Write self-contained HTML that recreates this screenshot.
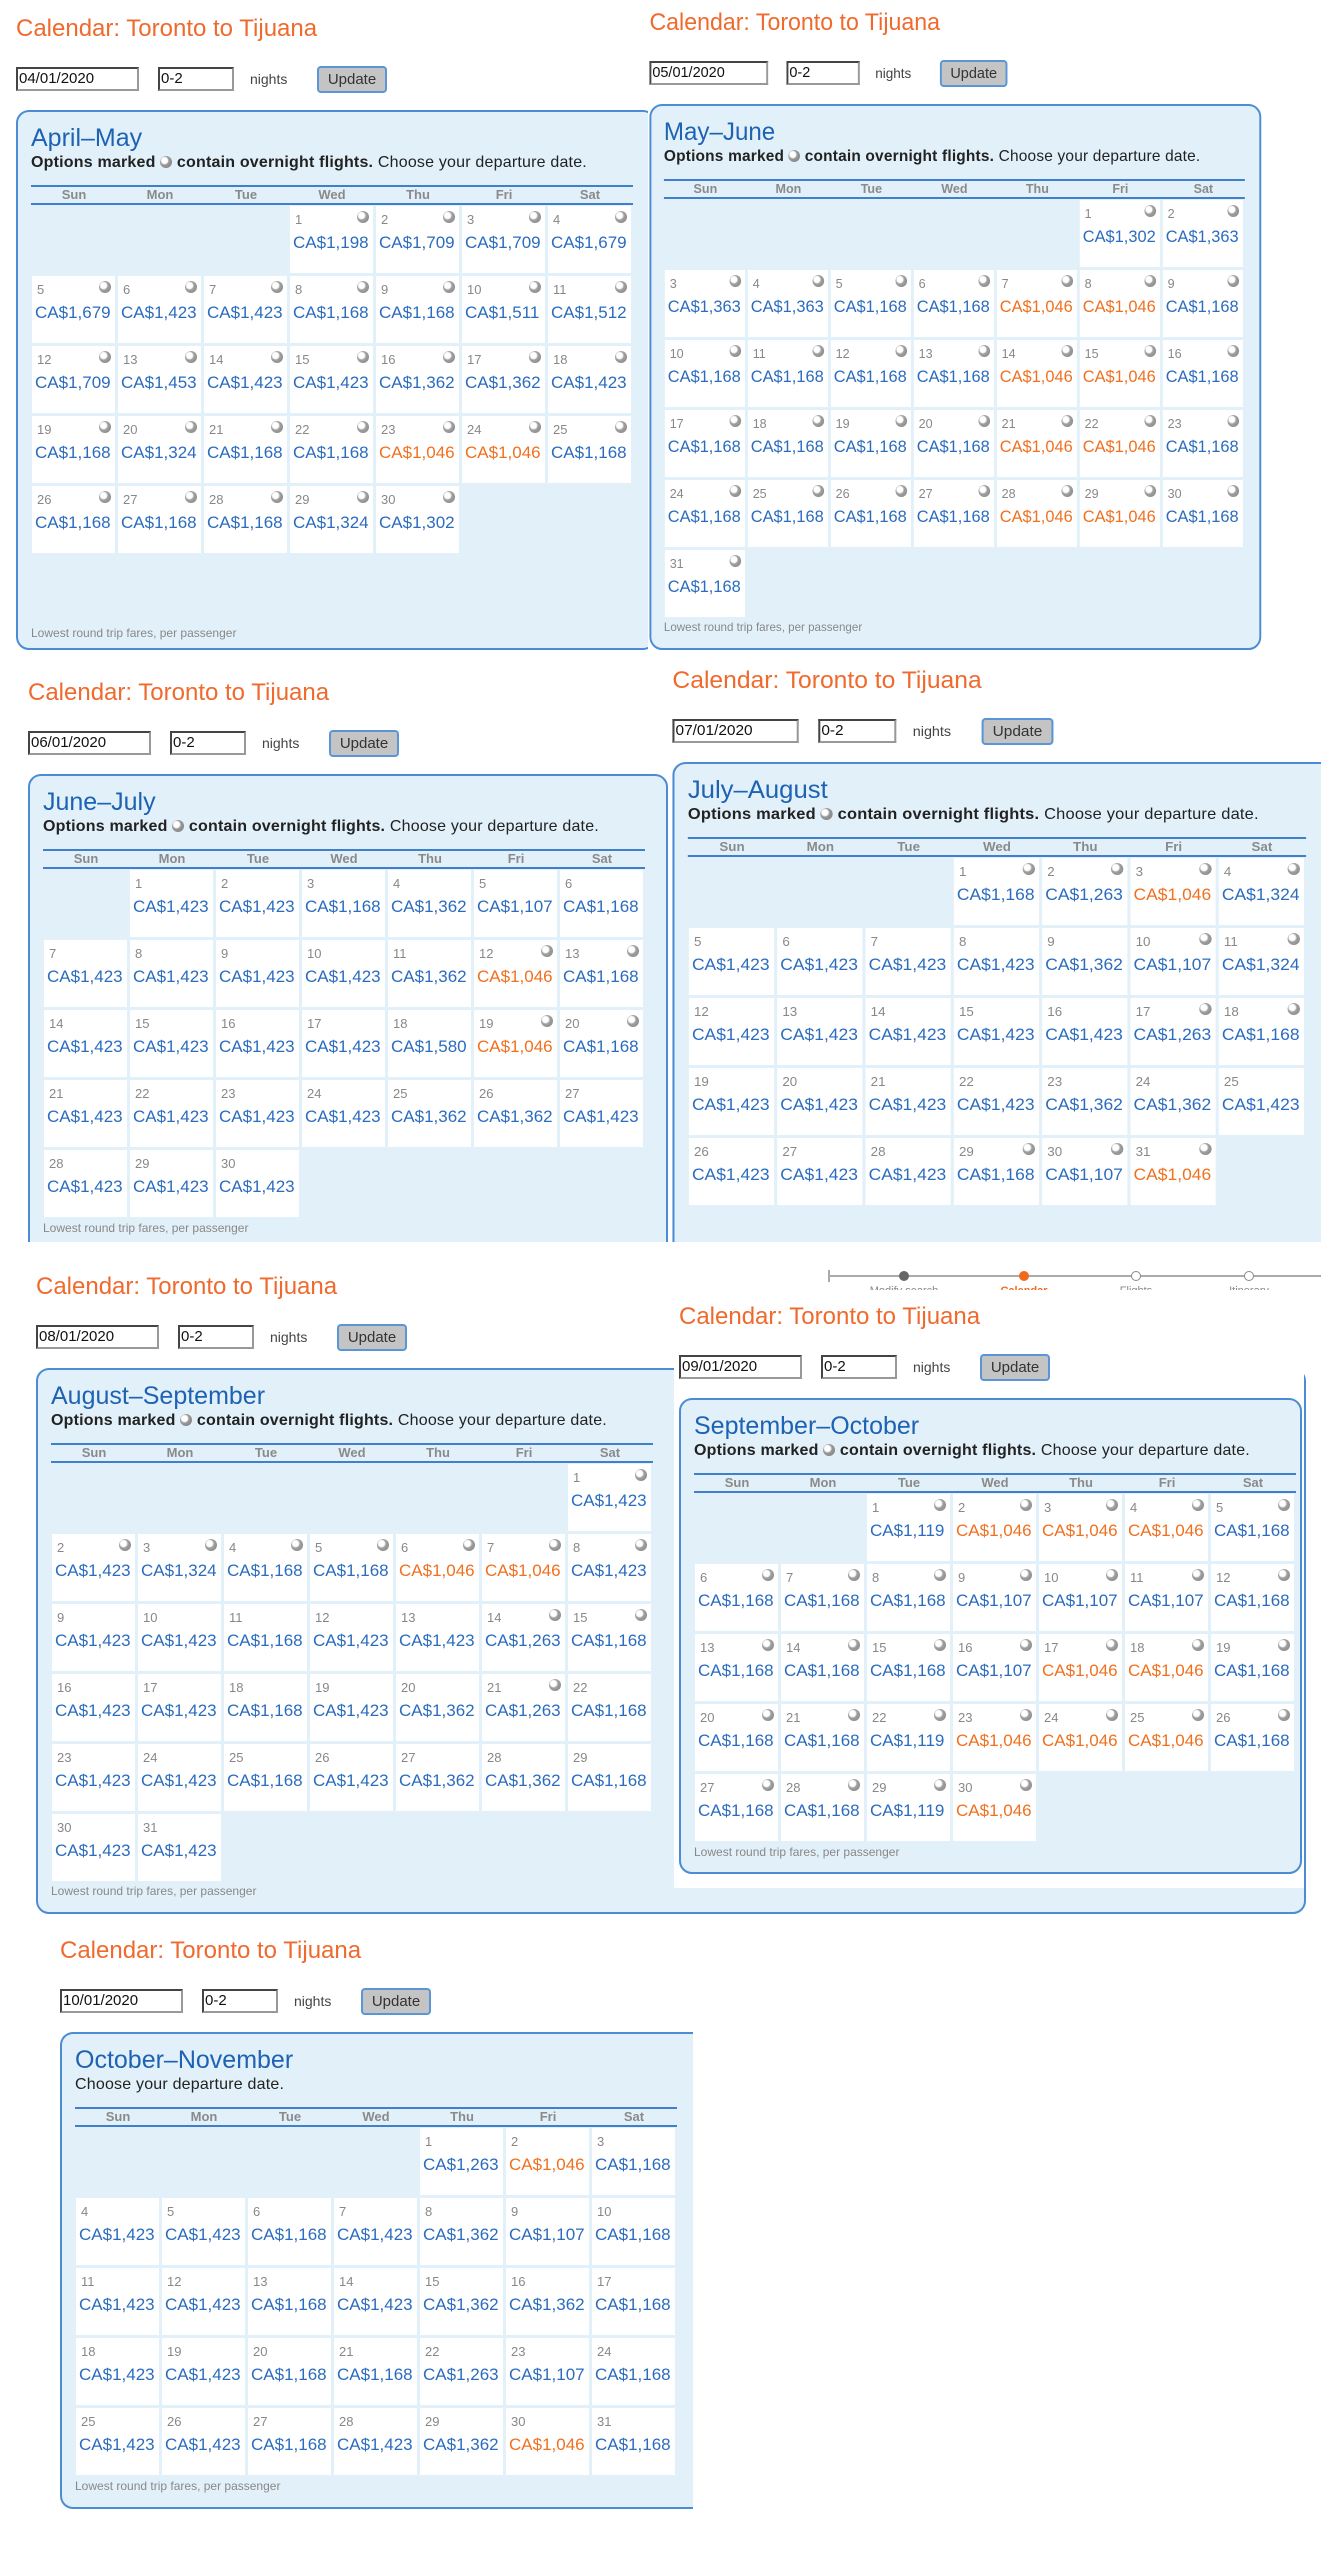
<!DOCTYPE html>
<html><head><meta charset="utf-8"><style>
*{margin:0;padding:0;box-sizing:border-box}
body{width:1321px;height:2560px;position:relative;background:#fff;font-family:"Liberation Sans","DejaVu Sans",sans-serif;overflow:hidden}
.w{position:absolute;overflow:hidden}
.wb{background:#fff}
.in{position:absolute;transform-origin:0 0;width:1400px;height:700px}
.in>div{position:absolute}
.t{left:16px;top:15px;font-size:24px;color:#ef6a2c;white-space:nowrap}
.d,.n{top:67px;height:24px;border:2px solid #444;border-right-color:#999;border-bottom-color:#999;font-size:15px;line-height:20px;padding-left:1px;color:#111;background:#fff}
.d{left:16px;width:123px}
.n{left:158px;width:76px}
.nl{left:250px;top:71px;font-size:14px;color:#444}
.up{left:317px;top:66px;width:70px;height:27px;border:2px solid #5a95d8;border-radius:4px;background:#c4c4c4;font-size:15px;text-align:center;line-height:23px;color:#333}
.bx{left:16px;top:110px;border:2px solid #4c8cd5;border-radius:13px;background:#e2f0f9}
.mh{left:31px;top:124px;font-size:25px;color:#1d62b3;white-space:nowrap}
.sb{left:31px;top:154px;font-size:16px;letter-spacing:.2px;color:#222;white-space:nowrap}
.sb u{display:inline-block;width:12px;height:12px;border-radius:50%;background:radial-gradient(circle at 38% 38%,#fff 0 28%,#999 42%,#7a7a7a 100%);vertical-align:-1px}
.hd{left:31px;top:185px;width:602px;height:20px;border-top:2px solid #3f7fcc;border-bottom:2px solid #3f7fcc;display:flex}
.hd span{flex:1;text-align:center;font-weight:bold;font-size:13px;color:#8a8a8a;line-height:16px}
.g{left:32px;top:206px;display:grid;grid-template-columns:repeat(7,83px);grid-auto-rows:67px;gap:3px}
.g i{position:relative;background:#fff;font-style:normal;display:block}
.g i.e{background:none}
.g b{position:absolute;left:5px;top:6px;font-weight:normal;font-size:13px;color:#888}
.g u{position:absolute;right:4px;top:5px;width:12px;height:12px;border-radius:50%;background:radial-gradient(circle at 38% 38%,#fff 0 28%,#a0a0a0 42%,#808080 100%)}
.g s{position:absolute;left:3px;top:27px;font-size:17px;color:#2b6cbf;text-decoration:none;white-space:nowrap}
.g i.o s{color:#f0701f}
.ft{left:31px;font-size:12px;color:#888;white-space:nowrap}
.pb{position:absolute;left:828px;top:1270px;width:493px;height:23px;overflow:hidden;background:#fff}
.pb .ln{position:absolute;left:0;top:5px;width:493px;height:2px;background:#aaa}
.pb .tk{position:absolute;left:0;top:0;width:2px;height:12px;background:#aaa}
.pb .dt{position:absolute;top:1px;width:10px;height:10px;border-radius:50%}
.pb .lb{position:absolute;top:15px;font-size:11px;color:#888;width:100px;text-align:center}
</style></head><body>

<!-- A -->
<div class="w wb" style="left:0;top:0;width:648px;height:660px"><div class="in" style="left:0;top:0">
<div class="t">Calendar: Toronto to Tijuana</div>
<div class="d">04/01/2020</div><div class="n">0-2</div><div class="nl">nights</div><div class="up">Update</div>
<div class="bx" style="width:640px;height:540px"></div>
<div class="mh">April–May</div>
<div class="sb"><b>Options marked <u></u> contain overnight flights.</b> Choose your departure date.</div>
<div class="hd"><span>Sun</span><span>Mon</span><span>Tue</span><span>Wed</span><span>Thu</span><span>Fri</span><span>Sat</span></div>
<div class="g">
<i class=e></i><i class=e></i><i class=e></i>
<i><b>1</b><u></u><s>CA$1,198</s></i><i><b>2</b><u></u><s>CA$1,709</s></i><i><b>3</b><u></u><s>CA$1,709</s></i><i><b>4</b><u></u><s>CA$1,679</s></i>
<i><b>5</b><u></u><s>CA$1,679</s></i><i><b>6</b><u></u><s>CA$1,423</s></i><i><b>7</b><u></u><s>CA$1,423</s></i><i><b>8</b><u></u><s>CA$1,168</s></i><i><b>9</b><u></u><s>CA$1,168</s></i><i><b>10</b><u></u><s>CA$1,511</s></i><i><b>11</b><u></u><s>CA$1,512</s></i>
<i><b>12</b><u></u><s>CA$1,709</s></i><i><b>13</b><u></u><s>CA$1,453</s></i><i><b>14</b><u></u><s>CA$1,423</s></i><i><b>15</b><u></u><s>CA$1,423</s></i><i><b>16</b><u></u><s>CA$1,362</s></i><i><b>17</b><u></u><s>CA$1,362</s></i><i><b>18</b><u></u><s>CA$1,423</s></i>
<i><b>19</b><u></u><s>CA$1,168</s></i><i><b>20</b><u></u><s>CA$1,324</s></i><i><b>21</b><u></u><s>CA$1,168</s></i><i><b>22</b><u></u><s>CA$1,168</s></i><i class=o><b>23</b><u></u><s>CA$1,046</s></i><i class=o><b>24</b><u></u><s>CA$1,046</s></i><i><b>25</b><u></u><s>CA$1,168</s></i>
<i><b>26</b><u></u><s>CA$1,168</s></i><i><b>27</b><u></u><s>CA$1,168</s></i><i><b>28</b><u></u><s>CA$1,168</s></i><i><b>29</b><u></u><s>CA$1,324</s></i><i><b>30</b><u></u><s>CA$1,302</s></i>
</div>
<div class="ft" style="top:626px">Lowest round trip fares, per passenger</div>
</div></div>

<!-- B -->
<div class="w wb" style="left:648px;top:0;width:673px;height:660px"><div class="in" style="left:-14px;top:-6px;transform:scaleX(0.965)">
<div class="t">Calendar: Toronto to Tijuana</div>
<div class="d">05/01/2020</div><div class="n">0-2</div><div class="nl">nights</div><div class="up">Update</div>
<div class="bx" style="width:634px;height:546px"></div>
<div class="mh">May–June</div>
<div class="sb"><b>Options marked <u></u> contain overnight flights.</b> Choose your departure date.</div>
<div class="hd"><span>Sun</span><span>Mon</span><span>Tue</span><span>Wed</span><span>Thu</span><span>Fri</span><span>Sat</span></div>
<div class="g">
<i class=e></i><i class=e></i><i class=e></i><i class=e></i><i class=e></i>
<i><b>1</b><u></u><s>CA$1,302</s></i><i><b>2</b><u></u><s>CA$1,363</s></i>
<i><b>3</b><u></u><s>CA$1,363</s></i><i><b>4</b><u></u><s>CA$1,363</s></i><i><b>5</b><u></u><s>CA$1,168</s></i><i><b>6</b><u></u><s>CA$1,168</s></i><i class=o><b>7</b><u></u><s>CA$1,046</s></i><i class=o><b>8</b><u></u><s>CA$1,046</s></i><i><b>9</b><u></u><s>CA$1,168</s></i>
<i><b>10</b><u></u><s>CA$1,168</s></i><i><b>11</b><u></u><s>CA$1,168</s></i><i><b>12</b><u></u><s>CA$1,168</s></i><i><b>13</b><u></u><s>CA$1,168</s></i><i class=o><b>14</b><u></u><s>CA$1,046</s></i><i class=o><b>15</b><u></u><s>CA$1,046</s></i><i><b>16</b><u></u><s>CA$1,168</s></i>
<i><b>17</b><u></u><s>CA$1,168</s></i><i><b>18</b><u></u><s>CA$1,168</s></i><i><b>19</b><u></u><s>CA$1,168</s></i><i><b>20</b><u></u><s>CA$1,168</s></i><i class=o><b>21</b><u></u><s>CA$1,046</s></i><i class=o><b>22</b><u></u><s>CA$1,046</s></i><i><b>23</b><u></u><s>CA$1,168</s></i>
<i><b>24</b><u></u><s>CA$1,168</s></i><i><b>25</b><u></u><s>CA$1,168</s></i><i><b>26</b><u></u><s>CA$1,168</s></i><i><b>27</b><u></u><s>CA$1,168</s></i><i class=o><b>28</b><u></u><s>CA$1,046</s></i><i class=o><b>29</b><u></u><s>CA$1,046</s></i><i><b>30</b><u></u><s>CA$1,168</s></i>
<i><b>31</b><u></u><s>CA$1,168</s></i>
</div>
<div class="ft" style="top:626px">Lowest round trip fares, per passenger</div>
</div></div>

<!-- C -->
<div class="w wb" style="left:0;top:660px;width:672px;height:582px"><div class="in" style="left:12px;top:4px">
<div class="t">Calendar: Toronto to Tijuana</div>
<div class="d">06/01/2020</div><div class="n">0-2</div><div class="nl">nights</div><div class="up">Update</div>
<div class="bx" style="width:640px;height:540px"></div>
<div class="mh">June–July</div>
<div class="sb"><b>Options marked <u></u> contain overnight flights.</b> Choose your departure date.</div>
<div class="hd"><span>Sun</span><span>Mon</span><span>Tue</span><span>Wed</span><span>Thu</span><span>Fri</span><span>Sat</span></div>
<div class="g">
<i class=e></i>
<i><b>1</b><s>CA$1,423</s></i><i><b>2</b><s>CA$1,423</s></i><i><b>3</b><s>CA$1,168</s></i><i><b>4</b><s>CA$1,362</s></i><i><b>5</b><s>CA$1,107</s></i><i><b>6</b><s>CA$1,168</s></i>
<i><b>7</b><s>CA$1,423</s></i><i><b>8</b><s>CA$1,423</s></i><i><b>9</b><s>CA$1,423</s></i><i><b>10</b><s>CA$1,423</s></i><i><b>11</b><s>CA$1,362</s></i><i class=o><b>12</b><u></u><s>CA$1,046</s></i><i><b>13</b><u></u><s>CA$1,168</s></i>
<i><b>14</b><s>CA$1,423</s></i><i><b>15</b><s>CA$1,423</s></i><i><b>16</b><s>CA$1,423</s></i><i><b>17</b><s>CA$1,423</s></i><i><b>18</b><s>CA$1,580</s></i><i class=o><b>19</b><u></u><s>CA$1,046</s></i><i><b>20</b><u></u><s>CA$1,168</s></i>
<i><b>21</b><s>CA$1,423</s></i><i><b>22</b><s>CA$1,423</s></i><i><b>23</b><s>CA$1,423</s></i><i><b>24</b><s>CA$1,423</s></i><i><b>25</b><s>CA$1,362</s></i><i><b>26</b><s>CA$1,362</s></i><i><b>27</b><s>CA$1,423</s></i>
<i><b>28</b><s>CA$1,423</s></i><i><b>29</b><s>CA$1,423</s></i><i><b>30</b><s>CA$1,423</s></i>
</div>
<div class="ft" style="top:557px">Lowest round trip fares, per passenger</div>
</div></div>

<!-- D -->
<div class="w wb" style="left:672px;top:660px;width:649px;height:582px"><div class="in" style="left:-16px;top:-8px;transform:scaleX(1.027)">
<div class="t">Calendar: Toronto to Tijuana</div>
<div class="d">07/01/2020</div><div class="n">0-2</div><div class="nl">nights</div><div class="up">Update</div>
<div class="bx" style="width:700px;height:560px"></div>
<div class="mh">July–August</div>
<div class="sb"><b>Options marked <u></u> contain overnight flights.</b> Choose your departure date.</div>
<div class="hd"><span>Sun</span><span>Mon</span><span>Tue</span><span>Wed</span><span>Thu</span><span>Fri</span><span>Sat</span></div>
<div class="g">
<i class=e></i><i class=e></i><i class=e></i>
<i><b>1</b><u></u><s>CA$1,168</s></i><i><b>2</b><u></u><s>CA$1,263</s></i><i class=o><b>3</b><u></u><s>CA$1,046</s></i><i><b>4</b><u></u><s>CA$1,324</s></i>
<i><b>5</b><s>CA$1,423</s></i><i><b>6</b><s>CA$1,423</s></i><i><b>7</b><s>CA$1,423</s></i><i><b>8</b><s>CA$1,423</s></i><i><b>9</b><s>CA$1,362</s></i><i><b>10</b><u></u><s>CA$1,107</s></i><i><b>11</b><u></u><s>CA$1,324</s></i>
<i><b>12</b><s>CA$1,423</s></i><i><b>13</b><s>CA$1,423</s></i><i><b>14</b><s>CA$1,423</s></i><i><b>15</b><s>CA$1,423</s></i><i><b>16</b><s>CA$1,423</s></i><i><b>17</b><u></u><s>CA$1,263</s></i><i><b>18</b><u></u><s>CA$1,168</s></i>
<i><b>19</b><s>CA$1,423</s></i><i><b>20</b><s>CA$1,423</s></i><i><b>21</b><s>CA$1,423</s></i><i><b>22</b><s>CA$1,423</s></i><i><b>23</b><s>CA$1,362</s></i><i><b>24</b><s>CA$1,362</s></i><i><b>25</b><s>CA$1,423</s></i>
<i><b>26</b><s>CA$1,423</s></i><i><b>27</b><s>CA$1,423</s></i><i><b>28</b><s>CA$1,423</s></i><i><b>29</b><u></u><s>CA$1,168</s></i><i><b>30</b><u></u><s>CA$1,107</s></i><i class=o><b>31</b><u></u><s>CA$1,046</s></i>
</div>
</div></div>

<!-- progress bar -->
<div class="pb">
<div class="ln"></div><div class="tk"></div>
<div class="dt" style="left:71px;background:#666"></div>
<div class="dt" style="left:191px;background:#f06a1c"></div>
<div class="dt" style="left:303px;background:#fff;border:1.5px solid #888"></div>
<div class="dt" style="left:416px;background:#fff;border:1.5px solid #888"></div>
<div class="lb" style="left:26px">Modify search</div>
<div class="lb" style="left:146px;color:#f06a1c;font-weight:bold">Calendar</div>
<div class="lb" style="left:258px">Flights</div>
<div class="lb" style="left:371px">Itinerary</div>
</div>

<!-- E -->
<div class="w" style="left:0;top:1250px;width:1321px;height:675px"><div class="in" style="left:20px;top:8px">
<div class="t">Calendar: Toronto to Tijuana</div>
<div class="d">08/01/2020</div><div class="n">0-2</div><div class="nl">nights</div><div class="up">Update</div>
<div class="bx" style="width:1270px;height:546px"></div>
<div class="mh">August–September</div>
<div class="sb"><b>Options marked <u></u> contain overnight flights.</b> Choose your departure date.</div>
<div class="hd"><span>Sun</span><span>Mon</span><span>Tue</span><span>Wed</span><span>Thu</span><span>Fri</span><span>Sat</span></div>
<div class="g">
<i class=e></i><i class=e></i><i class=e></i><i class=e></i><i class=e></i><i class=e></i>
<i><b>1</b><u></u><s>CA$1,423</s></i>
<i><b>2</b><u></u><s>CA$1,423</s></i><i><b>3</b><u></u><s>CA$1,324</s></i><i><b>4</b><u></u><s>CA$1,168</s></i><i><b>5</b><u></u><s>CA$1,168</s></i><i class=o><b>6</b><u></u><s>CA$1,046</s></i><i class=o><b>7</b><u></u><s>CA$1,046</s></i><i><b>8</b><u></u><s>CA$1,423</s></i>
<i><b>9</b><s>CA$1,423</s></i><i><b>10</b><s>CA$1,423</s></i><i><b>11</b><s>CA$1,168</s></i><i><b>12</b><s>CA$1,423</s></i><i><b>13</b><s>CA$1,423</s></i><i><b>14</b><u></u><s>CA$1,263</s></i><i><b>15</b><u></u><s>CA$1,168</s></i>
<i><b>16</b><s>CA$1,423</s></i><i><b>17</b><s>CA$1,423</s></i><i><b>18</b><s>CA$1,168</s></i><i><b>19</b><s>CA$1,423</s></i><i><b>20</b><s>CA$1,362</s></i><i><b>21</b><u></u><s>CA$1,263</s></i><i><b>22</b><s>CA$1,168</s></i>
<i><b>23</b><s>CA$1,423</s></i><i><b>24</b><s>CA$1,423</s></i><i><b>25</b><s>CA$1,168</s></i><i><b>26</b><s>CA$1,423</s></i><i><b>27</b><s>CA$1,362</s></i><i><b>28</b><s>CA$1,362</s></i><i><b>29</b><s>CA$1,168</s></i>
<i><b>30</b><s>CA$1,423</s></i><i><b>31</b><s>CA$1,423</s></i>
</div>
<div class="ft" style="top:626px">Lowest round trip fares, per passenger</div>
</div></div>

<!-- F -->
<div class="w wb" style="left:674px;top:1290px;width:630px;height:598px"><div class="in" style="left:-11px;top:-2px">
<div class="t">Calendar: Toronto to Tijuana</div>
<div class="d">09/01/2020</div><div class="n">0-2</div><div class="nl">nights</div><div class="up">Update</div>
<div class="bx" style="width:623px;height:476px"></div>
<div class="mh">September–October</div>
<div class="sb"><b>Options marked <u></u> contain overnight flights.</b> Choose your departure date.</div>
<div class="hd"><span>Sun</span><span>Mon</span><span>Tue</span><span>Wed</span><span>Thu</span><span>Fri</span><span>Sat</span></div>
<div class="g">
<i class=e></i><i class=e></i>
<i><b>1</b><u></u><s>CA$1,119</s></i><i class=o><b>2</b><u></u><s>CA$1,046</s></i><i class=o><b>3</b><u></u><s>CA$1,046</s></i><i class=o><b>4</b><u></u><s>CA$1,046</s></i><i><b>5</b><u></u><s>CA$1,168</s></i>
<i><b>6</b><u></u><s>CA$1,168</s></i><i><b>7</b><u></u><s>CA$1,168</s></i><i><b>8</b><u></u><s>CA$1,168</s></i><i><b>9</b><u></u><s>CA$1,107</s></i><i><b>10</b><u></u><s>CA$1,107</s></i><i><b>11</b><u></u><s>CA$1,107</s></i><i><b>12</b><u></u><s>CA$1,168</s></i>
<i><b>13</b><u></u><s>CA$1,168</s></i><i><b>14</b><u></u><s>CA$1,168</s></i><i><b>15</b><u></u><s>CA$1,168</s></i><i><b>16</b><u></u><s>CA$1,107</s></i><i class=o><b>17</b><u></u><s>CA$1,046</s></i><i class=o><b>18</b><u></u><s>CA$1,046</s></i><i><b>19</b><u></u><s>CA$1,168</s></i>
<i><b>20</b><u></u><s>CA$1,168</s></i><i><b>21</b><u></u><s>CA$1,168</s></i><i><b>22</b><u></u><s>CA$1,119</s></i><i class=o><b>23</b><u></u><s>CA$1,046</s></i><i class=o><b>24</b><u></u><s>CA$1,046</s></i><i class=o><b>25</b><u></u><s>CA$1,046</s></i><i><b>26</b><u></u><s>CA$1,168</s></i>
<i><b>27</b><u></u><s>CA$1,168</s></i><i><b>28</b><u></u><s>CA$1,168</s></i><i><b>29</b><u></u><s>CA$1,119</s></i><i class=o><b>30</b><u></u><s>CA$1,046</s></i>
</div>
<div class="ft" style="top:557px">Lowest round trip fares, per passenger</div>
</div></div>

<!-- G -->
<div class="w" style="left:0;top:1925px;width:760px;height:635px"><div class="in" style="left:44px;top:-3px">
<div class="t">Calendar: Toronto to Tijuana</div>
<div class="d">10/01/2020</div><div class="n">0-2</div><div class="nl">nights</div><div class="up">Update</div>
<div class="bx" style="width:633px;height:477px;border-radius:13px 0 0 13px;border-right:none"></div>
<div class="mh">October–November</div>
<div class="sb">Choose your departure date.</div>
<div class="hd"><span>Sun</span><span>Mon</span><span>Tue</span><span>Wed</span><span>Thu</span><span>Fri</span><span>Sat</span></div>
<div class="g">
<i class=e></i><i class=e></i><i class=e></i><i class=e></i>
<i><b>1</b><s>CA$1,263</s></i><i class=o><b>2</b><s>CA$1,046</s></i><i><b>3</b><s>CA$1,168</s></i>
<i><b>4</b><s>CA$1,423</s></i><i><b>5</b><s>CA$1,423</s></i><i><b>6</b><s>CA$1,168</s></i><i><b>7</b><s>CA$1,423</s></i><i><b>8</b><s>CA$1,362</s></i><i><b>9</b><s>CA$1,107</s></i><i><b>10</b><s>CA$1,168</s></i>
<i><b>11</b><s>CA$1,423</s></i><i><b>12</b><s>CA$1,423</s></i><i><b>13</b><s>CA$1,168</s></i><i><b>14</b><s>CA$1,423</s></i><i><b>15</b><s>CA$1,362</s></i><i><b>16</b><s>CA$1,362</s></i><i><b>17</b><s>CA$1,168</s></i>
<i><b>18</b><s>CA$1,423</s></i><i><b>19</b><s>CA$1,423</s></i><i><b>20</b><s>CA$1,168</s></i><i><b>21</b><s>CA$1,168</s></i><i><b>22</b><s>CA$1,263</s></i><i><b>23</b><s>CA$1,107</s></i><i><b>24</b><s>CA$1,168</s></i>
<i><b>25</b><s>CA$1,423</s></i><i><b>26</b><s>CA$1,423</s></i><i><b>27</b><s>CA$1,168</s></i><i><b>28</b><s>CA$1,423</s></i><i><b>29</b><s>CA$1,362</s></i><i class=o><b>30</b><s>CA$1,046</s></i><i><b>31</b><s>CA$1,168</s></i>
</div>
<div class="ft" style="top:557px">Lowest round trip fares, per passenger</div>
</div></div>

</body></html>
